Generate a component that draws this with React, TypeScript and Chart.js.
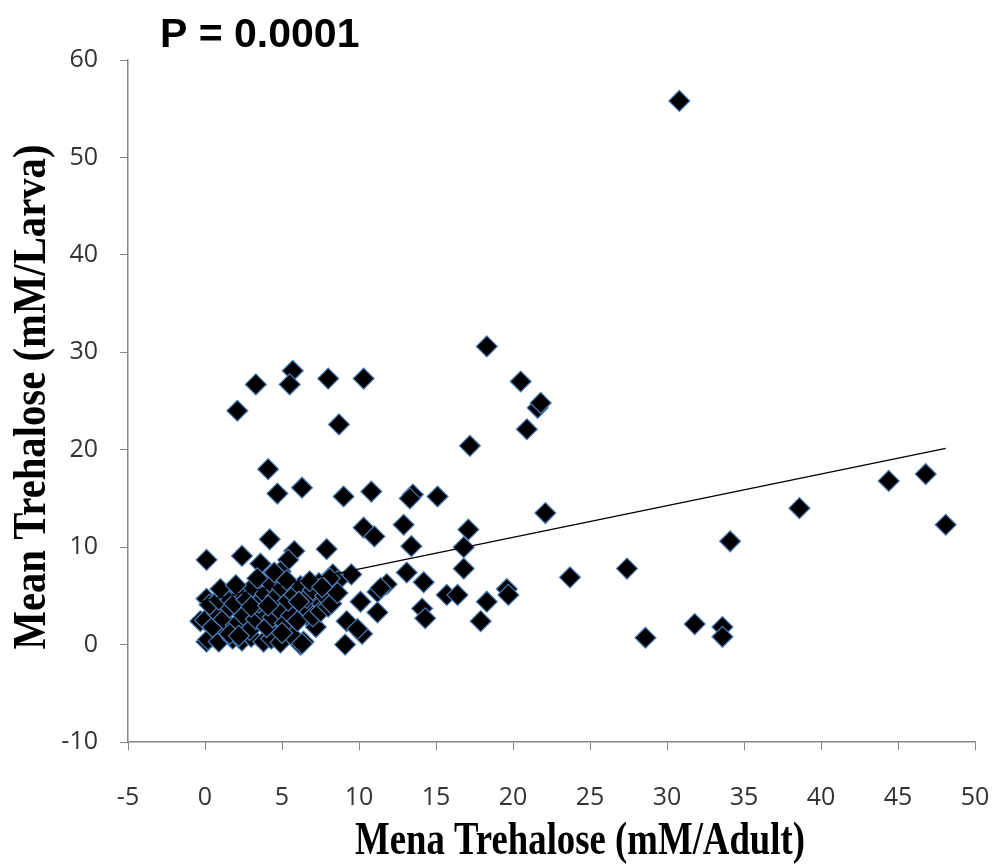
import { useEffect, useRef } from "react";
import { Chart, registerables } from "chart.js";

Chart.register(...registerables);

// Mean trehalose per adult (x) and per larva (y), mM
const adultTrehalose = [
  30.8, 18.3, 5.7, 5.5, 3.3, 8.0, 10.3, 2.1, 8.7, 20.5, 21.6, 21.8, 20.9, 17.2,
  4.1, 4.7, 6.3, 9.0, 10.8, 13.5, 13.3, 15.1,
  10.3, 11.0, 12.9, 17.1, 22.1, 13.4, 16.8, 16.8, 13.1, 14.2, 11.8, 11.2, 11.2,
  15.7, 16.4, 14.1, 14.3, 18.3, 19.6, 19.7, 17.9, 23.7, 10.2,
  27.4, 28.6, 31.8, 33.6, 33.6, 34.1, 38.6, 44.4, 46.8, 48.1,
  4.2, 0.1, 2.4, 3.6, 5.8, 5.4, 7.9, 9.5, 4.9, 8.3, 7.9, 9.2, 9.9, 9.1, 6.2,
  0.1, -0.3, 0.1, 8.6, 8.1, 11.4, 7.1, 6.8, 6.4, 10.1,
  0.2, 0.9, 1.3, 1.8, 2.4, 3.0, 3.8, 4.3, 4.9, 5.6, 6.3, 7.2,
  0.0, 0.5, 0.8, 1.2, 1.6, 2.0, 2.5, 2.9, 3.3, 3.7, 4.0, 4.4, 4.8, 5.2, 5.6,
  6.0, 6.5, 7.0, 7.5, 8.0,
  0.3, 0.9, 1.4, 1.9, 2.3, 2.7, 3.1, 3.5, 3.9, 4.2, 4.6, 5.0, 5.4, 5.8, 6.2,
  6.6, 7.0, 7.4, 7.8, 8.2, 8.6,
  1.0, 2.0, 3.4, 4.5, 5.3, 6.8, 7.6, 3.0, 1.6, 4.1, 6.1, 5.0, 2.2,
];

const larvaTrehalose = [
  55.8, 30.6, 28.1, 26.7, 26.7, 27.3, 27.3, 24.0, 22.6, 27.0, 24.3, 24.8, 22.1, 20.4,
  18.0, 15.5, 16.1, 15.2, 15.7, 15.4, 15.0, 15.2,
  12.0, 11.1, 12.3, 11.8, 13.5, 10.1, 10.0, 7.8, 7.4, 6.4, 6.2, 5.4, 3.3,
  5.1, 5.1, 3.7, 2.7, 4.4, 5.7, 5.1, 2.4, 6.9, 1.1,
  7.8, 0.7, 2.1, 1.8, 0.8, 10.6, 14.0, 16.8, 17.5, 12.3,
  10.8, 8.7, 9.1, 8.3, 9.6, 8.7, 9.8, 7.2, 7.5, 7.2, 6.5, 2.4, 1.6, 0.0, 0.0,
  4.7, 2.4, 0.3, 6.5, 6.8, 5.8, 4.4, 2.7, 0.3, 4.4,
  0.5, 0.3, 1.5, 0.6, 0.4, 0.8, 0.3, 0.6, 0.2, 1.0, 0.1, 1.8,
  2.5, 1.8, 3.2, 2.6, 3.8, 2.0, 3.0, 1.5, 2.6, 3.5, 1.8, 2.8, 3.6, 2.2, 3.0,
  2.4, 3.8, 2.9, 3.4, 3.9,
  4.1, 4.6, 5.0, 4.2, 5.4, 4.6, 5.9, 4.3, 5.2, 6.4, 4.9, 5.8, 4.5, 5.1, 6.0,
  4.8, 5.6, 6.3, 5.0, 4.2, 5.3,
  5.7, 6.1, 6.8, 7.4, 6.6, 6.5, 5.9, 3.9, 1.1, 4.0, 4.4, 1.2, 0.9,
];

// Linear trend line, y = slope * x + intercept
const TREND_SLOPE = 0.325;
const TREND_INTERCEPT = 4.5;

const xTicks = [-5, 0, 5, 10, 15, 20, 25, 30, 35, 40, 45, 50];
const yTicks = [-10, 0, 10, 20, 30, 40, 50, 60];

const P_LABEL = "P = 0.0001";
const X_TITLE = "Mena Trehalose (mM/Adult)";
const Y_TITLE = "Mean Trehalose (mM/Larva)";

const WIDTH = 995;
const HEIGHT = 867;

function drawCondensed(
  ctx: CanvasRenderingContext2D,
  text: string,
  cx: number,
  cy: number,
  targetWidth: number,
  font: string,
  angle: number
) {
  ctx.save();
  ctx.font = font;
  const w = ctx.measureText(text).width;
  ctx.translate(cx, cy);
  ctx.rotate(angle);
  ctx.scale(targetWidth / w, 1);
  ctx.textAlign = "center";
  ctx.textBaseline = "middle";
  ctx.fillStyle = "#000";
  ctx.fillText(text, 0, 0);
  ctx.restore();
}

const titlesPlugin = {
  id: "chartTexts",
  afterDraw(chart: Chart) {
    const ctx = chart.ctx;
    ctx.save();
    ctx.fillStyle = "#000";
    ctx.font = "bold 41px 'Liberation Sans', Arial, sans-serif";
    ctx.textAlign = "left";
    ctx.textBaseline = "alphabetic";
    ctx.fillText(P_LABEL, 160, 47);
    ctx.restore();

    drawCondensed(ctx, X_TITLE, 580, 842, 450, "bold 46px 'Liberation Serif', serif", 0);
    drawCondensed(ctx, Y_TITLE, 33, 397, 505, "bold 46px 'Liberation Serif', serif", -Math.PI / 2);
  },
};

export default function App() {
  const canvasRef = useRef<HTMLCanvasElement | null>(null);

  useEffect(() => {
    if (!canvasRef.current) return;
    const points = adultTrehalose.map((x, i) => ({ x, y: larvaTrehalose[i] }));
    const xMin = Math.min(...adultTrehalose);
    const xMax = Math.max(...adultTrehalose);
    const trend = [
      { x: xMin, y: TREND_SLOPE * xMin + TREND_INTERCEPT },
      { x: xMax, y: TREND_SLOPE * xMax + TREND_INTERCEPT },
    ];
    const tickFont = { family: "'Open Sans', sans-serif", size: 25 };
    const axisColor = "#868686";

    const chart = new Chart(canvasRef.current, {
      type: "scatter",
      data: {
        datasets: [
          {
            type: "line",
            data: trend,
            borderColor: "#000",
            borderWidth: 1.3,
            pointRadius: 0,
            fill: false,
          },
          {
            type: "scatter",
            data: points,
            pointStyle: "rectRot",
            pointRadius: 10.5,
            backgroundColor: "#000",
            borderColor: "#4a7ebb",
            borderWidth: 1.2,
          },
        ],
      },
      options: {
        animation: false,
        responsive: false,
        maintainAspectRatio: false,
        layout: { padding: { top: 60, right: 20, left: 0, bottom: 0 } },
        plugins: {
          legend: { display: false },
          tooltip: { enabled: false },
          title: { display: false },
        },
        scales: {
          x: {
            type: "linear",
            min: -5,
            max: 50,
            afterBuildTicks: (scale: any) => {
              scale.ticks = xTicks.map((v) => ({ value: v }));
            },
            afterFit: (scale: any) => {
              scale.height = HEIGHT - 742;
              scale.paddingRight = 0;
              scale.paddingLeft = 0;
            },
            ticks: { font: tickFont, color: "#333", padding: 33, maxRotation: 0 },
            grid: { drawOnChartArea: false, drawTicks: true, tickLength: 8, color: axisColor },
            border: { display: true, color: axisColor, width: 1.5 },
          },
          y: {
            type: "linear",
            min: -10,
            max: 60,
            afterBuildTicks: (scale: any) => {
              scale.ticks = yTicks.map((v) => ({ value: v }));
            },
            afterFit: (scale: any) => {
              scale.width = 128;
            },
            ticks: { font: tickFont, color: "#333", padding: 22 },
            grid: { drawOnChartArea: false, drawTicks: true, tickLength: 8, color: axisColor },
            border: { display: true, color: axisColor, width: 1.5 },
          },
        },
      },
      plugins: [titlesPlugin],
    });
    return () => chart.destroy();
  }, []);

  return (
    <div style={{ position: "fixed", left: 0, top: 0, width: WIDTH, height: HEIGHT, background: "#fff" }}>
      <canvas ref={canvasRef} width={WIDTH} height={HEIGHT} style={{ display: "block" }} />
    </div>
  );
}
